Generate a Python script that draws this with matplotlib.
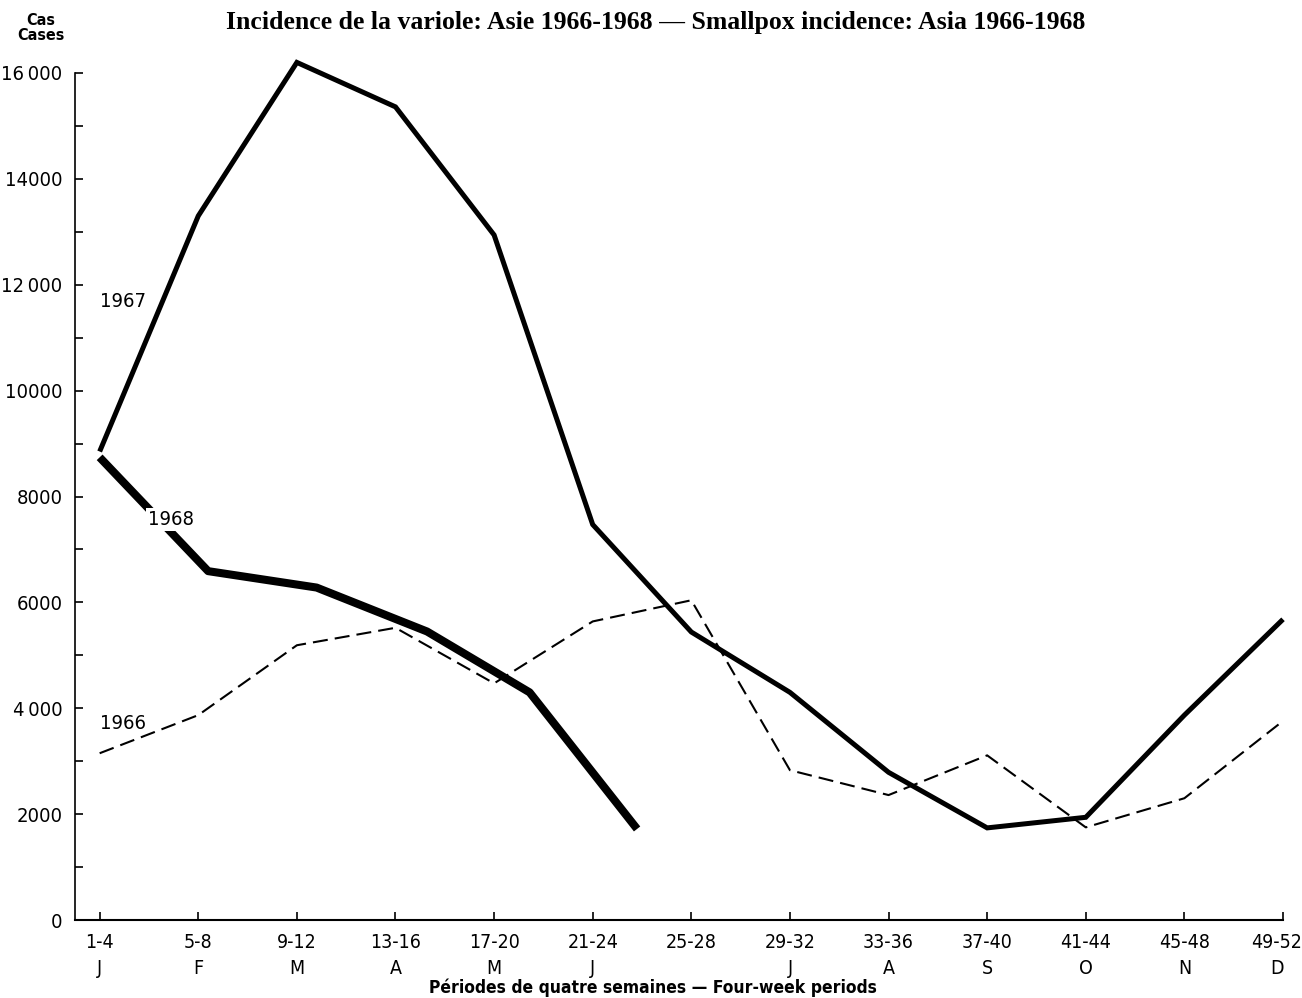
import matplotlib
matplotlib.use("Agg")
import os
import matplotlib.pyplot as plt
import matplotlib.transforms as mtransforms
from matplotlib.ticker import MultipleLocator, FixedLocator
from matplotlib import font_manager
from matplotlib.font_manager import FontProperties

# ---- data ----
periods = ["1-4", "5-8", "9-12", "13-16", "17-20", "21-24", "25-28",
           "29-32", "33-36", "37-40", "41-44", "45-48", "49-52"]
months = ["J", "F", "M", "A", "M", "J", "", "J", "A", "S", "O", "N", "D"]

cases_1966 = [3150, 3870, 5190, 5520, 4470, 5640, 6040, 2830, 2360, 3110, 1750, 2300, 3760]
cases_1967 = [8850, 13300, 16200, 15360, 12940, 7470, 5440, 4300, 2790, 1740, 1940, 3870, 5680]
# 1968 vertices as drawn (position in period units, value)
pos_1968 = [0.0, 1.10, 2.20, 3.32, 4.36, 5.45]
cases_1968 = [8740, 6590, 6280, 5450, 4300, 1720]

yticks_major = [0, 2000, 4000, 6000, 8000, 10000, 12000, 14000, 16000]
ytick_labels = ["0", "2000", "4\u2009000", "6000", "8000", "10000", "12\u2009000", "14000", "16\u2009000"]


# ---- fonts ----
def find_font(fname_part):
    for f in font_manager.fontManager.ttflist:
        if os.path.basename(f.fname) == fname_part:
            return f.fname
    return None


cond = find_font("DejaVuSansCondensed.ttf")
cond_b = find_font("DejaVuSansCondensed-Bold.ttf")


def fp(size, bold=False):
    path = cond_b if bold else cond
    if path:
        return FontProperties(fname=path, size=size)
    return FontProperties(family="DejaVu Sans", stretch="condensed",
                          weight="bold" if bold else "normal", size=size)


fig = plt.figure(figsize=(13.02, 9.98), dpi=100)
ax = fig.add_axes([75 / 1302, 1 - 920 / 998, (1283 - 75) / 1302, (920 - 73) / 998])

x = list(range(len(periods)))

ax.plot(x, cases_1966, color="black", lw=1.5, dashes=(7.2, 3.4), clip_on=False, zorder=2)
ax.plot(x, cases_1967, color="black", lw=3.6, solid_joinstyle="miter",
        solid_capstyle="butt", clip_on=False, zorder=3)
ax.plot(pos_1968, cases_1968, color="black", lw=5.8, solid_joinstyle="round",
        solid_capstyle="butt", clip_on=False, zorder=4)

ax.set_xlim(-0.25, 12)
ax.set_ylim(0, 16000)

for s in ["top", "right"]:
    ax.spines[s].set_visible(False)
ax.spines["left"].set_linewidth(1.2)
ax.spines["bottom"].set_linewidth(1.5)

ax.yaxis.set_major_locator(FixedLocator(yticks_major))
ax.yaxis.set_minor_locator(MultipleLocator(1000))
ax.set_yticklabels(ytick_labels)
ax.set_xticks(x)
ax.set_xticklabels([f"{p}\n{m}" for p, m in zip(periods, months)], linespacing=1.5)

ax.tick_params(axis="both", which="both", direction="in", length=6, width=1.2)
ax.tick_params(axis="y", which="major", pad=9)
ax.tick_params(axis="x", which="major", pad=9)
for lab in ax.get_xticklabels():
    lab.set_fontproperties(fp(14))
for lab in ax.get_yticklabels():
    lab.set_fontproperties(fp(14.5))

# nudge the last period label so it stays inside the figure, as in the original
last = ax.get_xticklabels()[-1]
last.set_transform(last.get_transform() +
                   mtransforms.ScaledTranslation(-6 / 100, 0, fig.dpi_scale_trans))

# series labels
ax.text(0.0, 11680, "1967", fontproperties=fp(14.5), ha="left", va="center", zorder=5)
ax.text(0.72, 7570, "1968", fontproperties=fp(14.5), ha="center", va="center", zorder=5,
        bbox=dict(facecolor="white", edgecolor="none", pad=1.5))
ax.text(0.0, 3720, "1966", fontproperties=fp(14.5), ha="left", va="center", zorder=5)

# titles and axis captions
fig.text(656 / 1302, 1 - 22 / 998,
         "Incidence de la variole: Asie 1966-1968 — Smallpox incidence: Asia 1966-1968",
         ha="center", va="center", fontsize=18.5, family="Liberation Serif", fontweight="bold")
fig.text(41 / 1302, 1 - 28 / 998, "Cas\nCases", ha="center", va="center",
         fontproperties=fp(11.5, bold=True), linespacing=1.0)
fig.text(653 / 1302, 1 - 988 / 998, "Périodes de quatre semaines — Four-week periods",
         ha="center", va="center", fontproperties=fp(12.5, bold=True))

fig.savefig("out.png", dpi=100)
